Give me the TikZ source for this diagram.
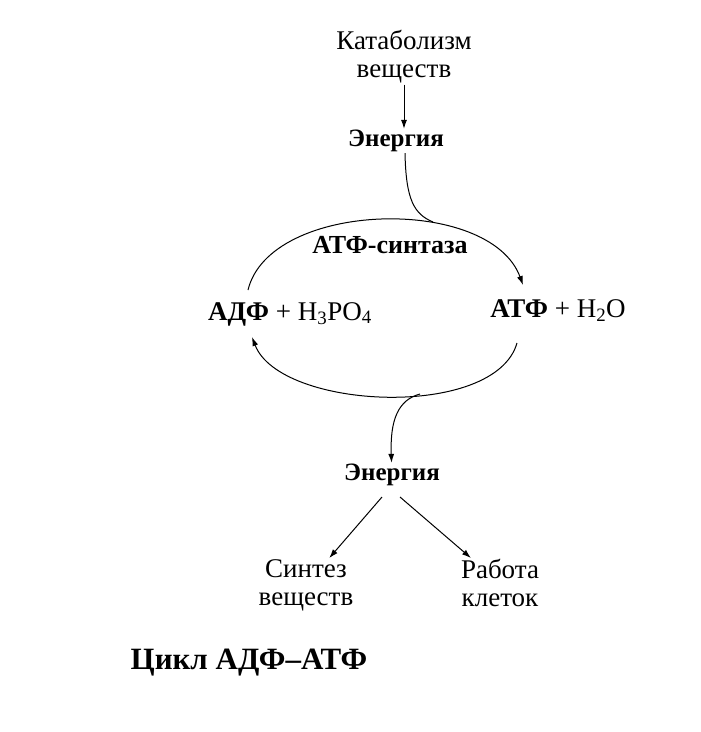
\documentclass[tikz,border=0pt]{standalone}
\usepackage{fontspec}
\setmainfont{Liberation Serif}
\usetikzlibrary{arrows.meta}

\begin{document}
\begin{tikzpicture}
      [x=1pt,y=-1pt,
       every node/.style={align=center,inner sep=1pt,font=\fontsize{27}{28}\selectfont},
       bold/.style={font=\fontsize{25}{28}\selectfont\bfseries},
       arr/.style={-{Latex[length=9pt,width=6pt]},line width=1pt}]
      \useasboundingbox (0,0) rectangle (701,732);

      \node (kat) at (404,57) {Катаболизм\\веществ};
      \node [bold] (e1) at (396,141) {Энергия};
      \node [bold,font=\fontsize{26}{28}\selectfont\bfseries] (syn) at (390,245) {АТФ-синтаза};
      \node (adp) at (290,314) {\textbf{АДФ} + H\textsubscript{3}PO\textsubscript{4}};
      \node (atp) at (558,311) {\textbf{АТФ} + H\textsubscript{2}O};
      \node [bold] (e2) at (392,475) {Энергия};
      \node (sint) at (306,585) {Синтез\\веществ};
      \node (rab) at (500,583) {Работа\\клеток};
      \node [font=\fontsize{31}{34}\selectfont\bfseries] (title) at (249,663) {Цикл АДФ--АТФ};

      \coordinate (j1) at (433,222);
      \coordinate (j2) at (420,394);
      \coordinate (up1) at (248,290);
      \coordinate (up2) at (523,285);
      \coordinate (lo1) at (517,343);
      \coordinate (lo2) at (252,337);

      \draw [arr] (kat.south -| 404,0) -- (e1.north -| 404,0);
      \draw [line width=1pt] (e1.south -| 405,0) .. controls (406,200) and (414,214) .. (j1);
      \draw [arr] (up1) .. controls (270,200) and (490,195) .. (up2);
      \draw [arr] (lo1) .. controls (495,420) and (280,410) .. (lo2);
      \draw [arr] (j2) .. controls (398,400) and (390,420) .. (e2);
      \draw [arr] (382,497) -- (sint);
      \draw [arr] (400,497) -- (rab);
    \end{tikzpicture}
\end{document}
